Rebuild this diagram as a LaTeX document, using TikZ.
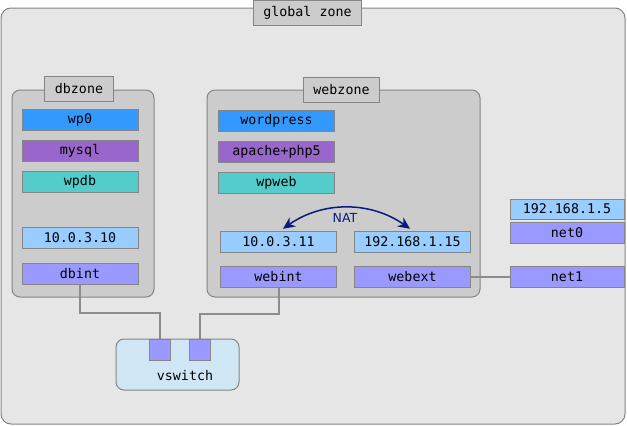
\documentclass[tikz,border=0pt]{standalone}
\usepackage{fontspec}
\newfontfamily\zonemono{DejaVu Sans Mono}
\newfontfamily\zonesans{DejaVu Sans}
\usetikzlibrary{positioning, arrows.meta}
\definecolor{globalgray}{HTML}{E6E6E6}
\definecolor{zonegray}{HTML}{CCCCCC}
\definecolor{edgegray}{HTML}{858585}
\definecolor{wiregray}{HTML}{8C8C8C}
\definecolor{appblue}{HTML}{3399FF}
\definecolor{svcpurple}{HTML}{9966CC}
\definecolor{dsteal}{HTML}{55CCCC}
\definecolor{ipblue}{HTML}{99CCFF}
\definecolor{nicblue}{HTML}{9999FF}
\definecolor{switchblue}{HTML}{D0E6F5}
\definecolor{natblue}{HTML}{0A1A80}

\begin{document}
\begin{tikzpicture}[
    x=1pt, y=-1pt,
    node distance=9pt,
    every node/.style={font=\zonemono\fontsize{13.3}{15}\selectfont, inner sep=0pt},
    zone/.style={draw=edgegray, line width=1pt, rounded corners=8pt},
    tag/.style={draw=edgegray, line width=1pt, fill=zonegray, minimum height=25pt, inner xsep=10pt},
    item/.style={draw=edgegray, line width=1pt, minimum width=116pt, minimum height=21pt},
    app/.style={item, fill=appblue},
    svc/.style={item, fill=svcpurple},
    ds/.style={item, fill=dsteal},
    ip/.style={item, fill=ipblue},
    nic/.style={item, fill=nicblue},
    port/.style={draw=edgegray, line width=1pt, fill=nicblue, minimum width=21pt, minimum height=21pt},
    wire/.style={draw=wiregray, line width=2pt},
    nat/.style={{Stealth[length=12pt,width=11pt]}-{Stealth[length=12pt,width=11pt]}, draw=natblue, line width=1.5pt, shorten <=3pt, shorten >=3pt}
]
\useasboundingbox (0,0) rectangle (627,426);

% global zone
\node[zone, fill=globalgray, rounded corners=10pt, minimum width=624pt, minimum height=416pt] (global) at (313,216) {};
\node[tag] (globaltag) at (307.5,12.5) {global zone};

% dbzone
\node[zone, fill=zonegray, minimum width=142pt, minimum height=207pt] (dbzone) at (83,193.5) {};
\node[tag] (dbtag) at (79,88.5) {dbzone};
\node[app] (wp0) at (80,119.5) {wp0};
\node[svc, below=of wp0] (mysql) {mysql};
\node[ds, below=of mysql] (wpdb) {wpdb};
\node[ip, below=34pt of wpdb] (dbip) {10.0.3.10};
\node[nic, below=14pt of dbip] (dbint) {dbint};

% webzone
\node[zone, fill=zonegray, minimum width=273pt, minimum height=207pt] (webzone) at (343.5,193.5) {};
\node[tag] (webtag) at (341.5,89.5) {webzone};
\node[app] (wordpress) at (276.5,120.5) {wordpress};
\node[svc, below=of wordpress] (apache) {apache+php5};
\node[ds, below=of apache] (wpweb) {wpweb};
\node[ip] (webip) at (278.5,241.5) {10.0.3.11};
\node[ip, right=17pt of webip] (extip) {192.168.1.15};
\node[nic, below=13pt of webip] (webint) {webint};
\node[nic, below=13pt of extip] (webext) {webext};

\draw[nat] ([xshift=2pt]webip.north) to[bend left=35] (extip.north);
\node[font=\zonesans\fontsize{12.5}{14}\selectfont, text=natblue] (nat) at (345,218) {NAT};

% global interfaces
\node[ip, minimum width=114pt, minimum height=20pt] (pubip) at (567,209) {192.168.1.5};
\node[nic, minimum width=114pt, below=2pt of pubip] (net0) {net0};
\node[nic, minimum width=114pt] (net1) at (567,276.5) {net1};

% wires
\draw[wire] (dbint.south) -- ++(0,28) -| (159.5,339);
\draw[wire] (webint.south) -- ++(0,26) -| (200,339);
\draw[wire] (webext.east) -- (net1.west);

% vswitch
\node[zone, fill=switchblue, minimum width=123pt, minimum height=51pt] (vswitch) at (177.5,364.5) {};
\node[port] (port1) at (159.5,349.5) {};
\node[port] (port2) at (200,349.5) {};
\node (vswitchtext) at (185,376) {vswitch};
\end{tikzpicture}
\end{document}
